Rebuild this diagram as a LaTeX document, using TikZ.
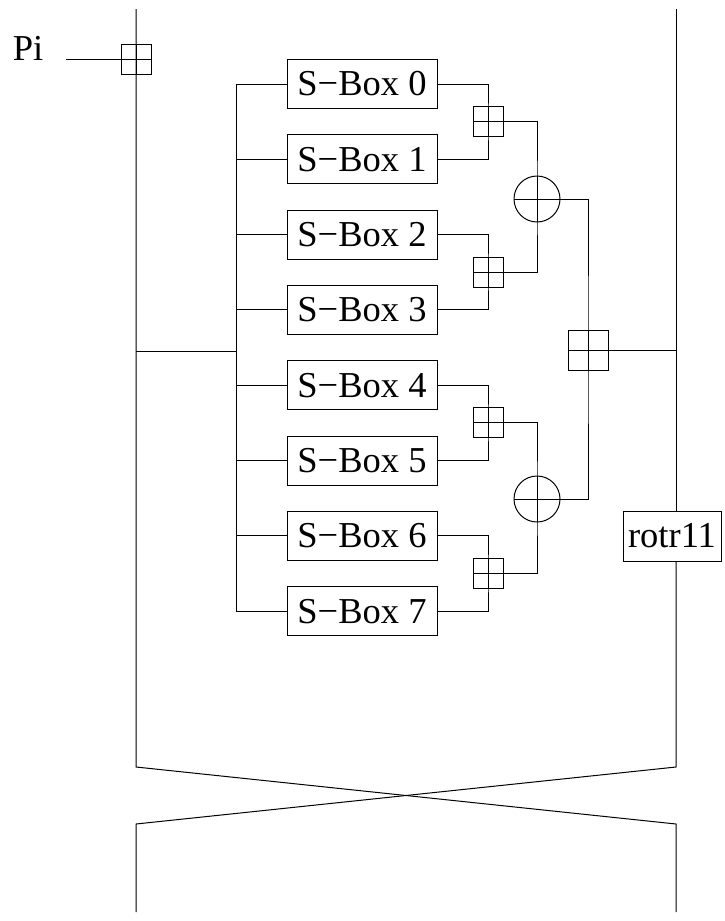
\documentclass[tikz,border=0pt]{standalone}
\usepackage{fontspec}
\setmainfont{Liberation Serif}
\begin{document}
\begin{tikzpicture}[x=1pt,y=-1pt,line width=1pt,
  every node/.style={font=\fontsize{36.5pt}{40pt}\selectfont},
  sbox/.style={draw,rectangle,minimum width=150pt,minimum height=49pt,inner sep=0pt},
  rotbox/.style={draw,rectangle,minimum width=98pt,minimum height=50pt,inner sep=0pt},
  addbox/.style={draw,rectangle,minimum size=#1,inner sep=0pt,
    path picture={\draw (path picture bounding box.north) -- (path picture bounding box.south)
      (path picture bounding box.west) -- (path picture bounding box.east);}},
  xorc/.style={draw,circle,minimum size=46pt,inner sep=0pt,
    path picture={\draw (path picture bounding box.north) -- (path picture bounding box.south)
      (path picture bounding box.west) -- (path picture bounding box.east);}}]
\useasboundingbox (0,0) rectangle (725,921);

% input
\node (pi) at (28,48) {Pi};
\coordinate (pistart) at (66,59);
\node[addbox=30pt] (pin) at (136,59) {};

% main rails
\coordinate (lt) at (136,9);
\coordinate (rt) at (676,9);
\coordinate (lx) at (136,767);
\coordinate (rx) at (676,767);
\coordinate (lb) at (136,824);
\coordinate (rb) at (676,824);
\coordinate (le) at (136,912);
\coordinate (re) at (676,912);
\coordinate (lj) at (136,351);
\coordinate (bj) at (236,351);

% S-boxes
\foreach \i in {0,...,7}{
  \node[sbox] (s\i) at (362,{84+75.3*\i}) {S−Box \i};
}
\coordinate (bustop) at (236,84);
\coordinate (busbot) at (236,611);

% adders and xors
\node[addbox=30pt] (p01) at (488,121.6) {};
\node[addbox=30pt] (p23) at (488,272.2) {};
\node[addbox=30pt] (p45) at (488,422.8) {};
\node[addbox=30pt] (p67) at (488,573.4) {};
\node[xorc] (x0) at (537,199) {};
\node[xorc] (x1) at (537,499) {};
\node[addbox=40pt] (big) at (588,350) {};
\node[rotbox] (rot) at (672,536) {rotr11};

% wires
\draw (pistart) -- (pin.east);
\draw (lt) -- (lx) -- (rb) -- (re);
\draw (rt) -- (rot.north -| rt);
\draw (rot.south -| rt) -- (rx) -- (lb) -- (le);
\draw (lj) -- (bj);
\draw (bustop) -- (busbot);
\foreach \i in {0,...,7}{
  \draw (s\i.west -| bustop) -- (s\i.west);
}
\draw (s0.east) -| (p01.center) |- (s1.east);
\draw (s2.east) -| (p23.center) |- (s3.east);
\draw (s4.east) -| (p45.center) |- (s5.east);
\draw (s6.east) -| (p67.center) |- (s7.east);
\draw (p01.center) -| (x0.center) |- (p23.center);
\draw (p45.center) -| (x1.center) |- (p67.center);
\draw (x0.center) -| (big.center) |- (x1.center);
\draw (big.center) -- (big.center -| rt);
\end{tikzpicture}
\end{document}
